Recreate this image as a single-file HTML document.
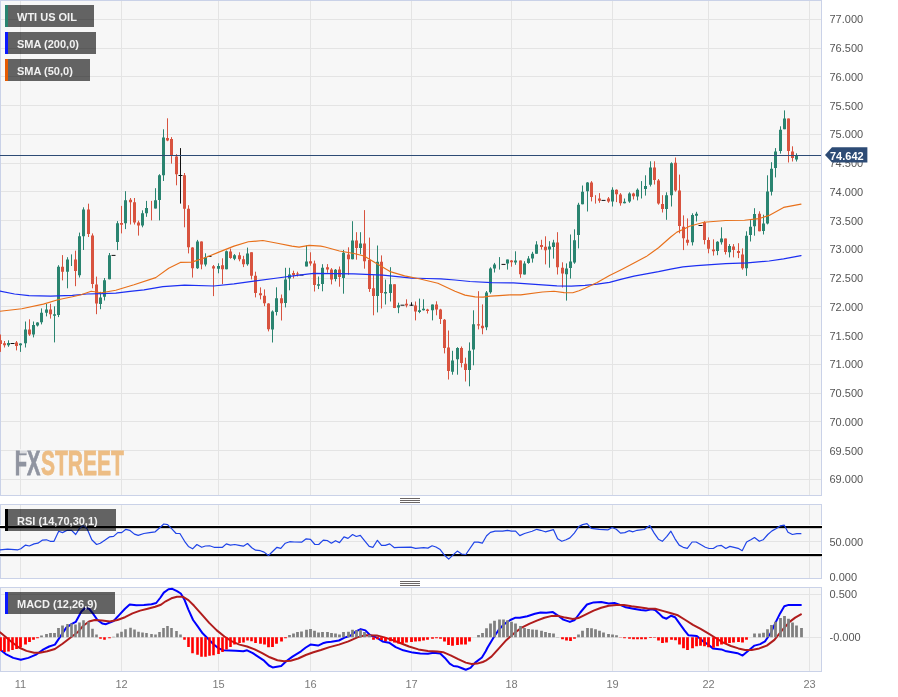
<!DOCTYPE html><html><head><meta charset="utf-8"><title>WTI US OIL</title><style>
html,body{margin:0;padding:0;background:#fff}
#c{position:relative;width:898px;height:697px;overflow:hidden;background:#fff;font-family:"Liberation Sans",Arial,sans-serif}
#c svg{position:absolute;left:0;top:0}
.ax{position:absolute;left:829.5px;font-size:11px;line-height:12px;height:12px;color:#555;white-space:nowrap}
.dt{position:absolute;top:678px;width:40px;text-align:center;font-size:11px;line-height:12px;color:#7a7a7a}
.lb{position:absolute;left:5px;height:22px;background:rgba(0,0,0,0.6);color:#f2f2f2;font-weight:bold;font-size:11px;line-height:22px;padding-top:1px;padding-left:9px;box-sizing:border-box;border-left:3px solid #000;white-space:nowrap}
.tag{position:absolute;left:830px;top:149.5px;font-size:11px;line-height:12px;font-weight:bold;color:#fff;z-index:3}
#tg{z-index:2}

</style></head><body><div id="c">
<svg width="898" height="697" viewBox="0 0 898 697">
<rect x="0.5" y="0.5" width="821" height="495" fill="#f7f7f7" stroke="#cad2e8" stroke-width="1"/>
<rect x="0.5" y="504.5" width="821" height="74" fill="#f7f7f7" stroke="#cad2e8" stroke-width="1"/>
<rect x="0.5" y="587.5" width="821" height="84" fill="#f7f7f7" stroke="#cad2e8" stroke-width="1"/>
<path d="M20.5 1V495M121.5 1V495M218.5 1V495M310.5 1V495M411.5 1V495M511.5 1V495M612.5 1V495M708.5 1V495M809.5 1V495M20.5 505V578M121.5 505V578M218.5 505V578M310.5 505V578M411.5 505V578M511.5 505V578M612.5 505V578M708.5 505V578M809.5 505V578M20.5 588V671M121.5 588V671M218.5 588V671M310.5 588V671M411.5 588V671M511.5 588V671M612.5 588V671M708.5 588V671M809.5 588V671M1 19.5H821M1 48.5H821M1 76.5H821M1 105.5H821M1 134.5H821M1 163.5H821M1 191.5H821M1 220.5H821M1 249.5H821M1 278.5H821M1 306.5H821M1 335.5H821M1 364.5H821M1 393.5H821M1 421.5H821M1 450.5H821M1 479.5H821M1 541.5H821M1 594.5H821M1 637.5H821" stroke="#e4e4e4" stroke-width="1" fill="none"/>
<rect x="400" y="498" width="20" height="1" fill="#6b6666"/>
<rect x="400" y="500" width="20" height="1" fill="#6b6666"/>
<rect x="400" y="502" width="20" height="1" fill="#6b6666"/>
<rect x="400" y="581" width="20" height="1" fill="#6b6666"/>
<rect x="400" y="583" width="20" height="1" fill="#6b6666"/>
<rect x="400" y="585" width="20" height="1" fill="#6b6666"/>
<path d="M8.5 340.3V346.8M20.5 343.2V351.9M25.5 321.5V347.5M33.5 321.5V337.4M37.5 322.2V326.5M41.5 308.4V324.4M46.5 304V316.4M54.5 306.3V342.4M58.5 265.2V317.1M67.5 257.2V288.3M71.5 254.4V266M79.5 232.6V277.5M83.5 207.3V250M100.5 291.8V309.2M104.5 278V300.5M109.5 253V279.3M117.5 221.1V250.1M125.5 191.2V229.1M142.5 210.3V227.3M146.5 200.9V216.8M155.5 188.2V208.5M159.5 174.2V220.4M163.5 129.3V181M197.5 239.9V268.9M205.5 253.3V266.4M218.5 263.3V273.3M226.5 250.5V269.3M234.5 254.1V260.2M247.5 247.6V265.7M272.5 310.4V342.5M276.5 287.3V315.5M285.5 267.8V307.4M289.5 267.8V290.3M306.5 245.4V266.4M318.5 276.5V289.1M322.5 264.2V291.3M335.5 269V281.4M343.5 249.9V293.7M352.5 221.2V259.3M360.5 232.2V254.2M377.5 245.5V312.4M385.5 279.6V304.5M390.5 267.2V301.5M398.5 302.7V313.2M419.5 298.6V313.2M423.5 299.3V310.5M432.5 304.5V320.4M452.5 350.8V374.7M457.5 347.2V374.7M469.5 342.4V386.3M473.5 310.3V365.3M486.5 291V330.2M490.5 267.3V293.7M494.5 262.9V272.5M499.5 257.1V269.6M507.5 259.5V269.6M515.5 251.3V264.8M524.5 261.2V274.5M528.5 256.1V263.8M532.5 251.8V262.6M536.5 241.2V253.7M549.5 241.2V267.7M553.5 239.8V258.6M566.5 263.4V300.6M570.5 234.5V278.6M574.5 229.3V263.8M578.5 202.8V248.4M582.5 185.5V204.3M587.5 182.1V211.5M612.5 187.3V206.5M624.5 198.5V203.3M629.5 192.3V202.8M637.5 188.4V200.4M641.5 181.1V198.5M645.5 175.3V195.6M650.5 161.3V186.5M666.5 192.3V219.8M671.5 162.3V206.5M692.5 213.3V245.5M696.5 211.8V221.5M717.5 241.2V255.2M721.5 227.3V244.6M729.5 244.1V257.4M746.5 231.3V275.9M750.5 219.7V241.5M754.5 208.2V235.7M763.5 214.7V234.5M767.5 175.3V224.4M771.5 162.2V195.5M775.5 148.1V177.4M780.5 126.3V153.6M784.5 110.4V129.2M796.5 153.3V161.5" stroke="#2a8470" stroke-width="1" fill="none"/>
<path d="M0.5 334.5V351.9M4.5 341V347.5M16.5 341V350.4M29.5 319.3V335.9M50.5 303.8V318.6M62.5 255.1V280.4M75.5 250.7V286.2M88.5 203.7V237M92.5 233.4V288.3M96.5 276.6V314.2M121.5 205.9V233.4M130.5 198V224.5M134.5 198V224.5M138.5 220.7V235.6M151.5 200.9V220.4M167.5 118.3V141.2M171.5 137.1V163.6M176.5 154.2V185.3M184.5 173V227.3M188.5 205.2V253.4M192.5 247.2V277.6M201.5 241.4V269.3M213.5 265V296.1M222.5 258.3V284.1M230.5 248.6V258.8M239.5 252.3V261.3M243.5 255.8V267.1M251.5 252.3V279.4M255.5 271.7V297.4M260.5 287.4V299.4M264.5 289.4V306.2M268.5 303.2V331.4M281.5 294.5V320.5M293.5 270.7V278.4M297.5 271.7V276.5M310.5 252.3V265.7M314.5 260.6V291.5M327.5 264.1V272.8M331.5 268.1V284.4M339.5 266.5V286.7M348.5 247.3V274.8M356.5 232.2V259.7M364.5 210.1V268.7M369.5 237.6V291.9M373.5 275.2V315.3M381.5 255.4V308.5M394.5 284.3V308.1M406.5 299.3V307.4M415.5 301.5V320.4M427.5 308.8V313.5M436.5 301.3V315.3M440.5 308.8V324M444.5 319V353.4M448.5 330.5V379.5M461.5 346.5V367.4M465.5 357.7V381.5M478.5 291.2V329.4M482.5 304.4V334.3M511.5 260V266.7M520.5 260.5V277.8M541.5 239.8V249.6M545.5 236.3V264.4M557.5 232.2V274.5M562.5 262.3V287.5M591.5 181.1V201.4M595.5 195.2V203.6M599.5 193.1V202.8M608.5 197V202.8M616.5 189.4V202.1M620.5 193.1V205.7M633.5 192.7V199.5M654.5 161.3V184.5M658.5 179V204.7M662.5 195.2V212.5M675.5 157.5V191.7M679.5 174.6V233.3M683.5 215.4V250.1M687.5 218.4V245.5M704.5 221.2V244.4M708.5 237.4V253.3M713.5 239.3V255.6M725.5 238.6V254.5M733.5 244.1V257.4M738.5 243.2V258.1M742.5 248.4V269.7M759.5 211.3V231.3M788.5 118.5V162.5M792.5 146.3V161.5" stroke="#d8533f" stroke-width="1" fill="none"/>
<path d="M7 342.9H10V345.3H7ZM19 343.5H22V345.3H19ZM24 329.4H27V343.2H24ZM32 325H35V334.5H32ZM36 322.6H39V325.5H36ZM40 312.8H43V322.2H40ZM45 309.6H48V312.8H45ZM53 314.2H56V315.7H53ZM57 266.7H60V315H57ZM66 259.4H69V271.7H66ZM78 236.3H81V275.3H78ZM82 209.5H85V236.3H82ZM99 297.6H102V304H99ZM103 280.2H106V296.8H103ZM108 255.3H111V279.3H108ZM116 223.3H119V242.1H116ZM124 200.3H127V223.3H124ZM141 213.2H144V225.5H141ZM145 208.1H148V213.2H145ZM154 200.3H157V208.5H154ZM158 175.2H161V200H158ZM162 137.6H165V175.2H162ZM196 241.4H199V268.2H196ZM204 257.3H207V264.6H204ZM217 266H220V268.8H217ZM225 251.3H228V269.3H225ZM233 255.2H236V258.7H233ZM246 253.4H249V264.2H246ZM271 311.6H274V329.5H271ZM275 298.3H278V312H275ZM284 279.4H287V303.1H284ZM288 274.6H291V278.4H288ZM305 261.6H308V266.4H305ZM317 284.2H320V285.7H317ZM321 267.8H324V284.1H321ZM334 269.8H337V279H334ZM342 252.8H345V278.1H342ZM351 240.5H354V259.3H351ZM359 243.4H362V248.1H359ZM376 261.7H379V296H376ZM384 291.9H387V293.4H384ZM389 284.3H392V293H389ZM397 305.2H400V307.4H397ZM418 310.3H421V312H418ZM422 308.8H425V310.3H422ZM431 304.5H434V310.3H431ZM451 360.6H454V371.8H451ZM456 347.9H459V359.2H456ZM468 350.8H471V369.9H468ZM472 324.3H475V349.4H472ZM485 292.5H488V327.2H485ZM489 268.4H492V292.2H489ZM493 264.4H496V268.4H493ZM506 259.5H509V263.4H506ZM514 260.5H517V262.6H514ZM523 263.4H526V274.5H523ZM527 258.6H530V262.9H527ZM531 253.7H534V258.6H531ZM535 244.5H538V253.7H535ZM548 246.4H551V249.6H548ZM552 242.4H555V247H552ZM565 268.4H568V274.2H565ZM569 261.5H572V268.1H569ZM573 240.3H576V262.6H573ZM577 204.7H580V235.1H577ZM581 191.7H584V204.3H581ZM586 182.6H589V191.3H586ZM611 189.8H614V201.4H611ZM623 201.8H626V203.3H623ZM628 193.4H631V201.4H628ZM636 189.8H639V196.6H636ZM644 185.9H647V189.1H644ZM649 167.4H652V184.7H649ZM665 195.2H668V209.1H665ZM670 163.3H673V195.2H670ZM691 215.1H694V242.2H691ZM695 213.7H698V215.7H695ZM716 241.7H719V250.9H716ZM720 238.6H723V242.2H720ZM728 246.1H731V252.3H728ZM745 235.7H748V268.2H745ZM749 226.7H752V234.9H749ZM753 214H756V226.3H753ZM762 223.4H765V231H762ZM766 191.5H769V223.4H766ZM770 168.8H773V191.7H770ZM774 151.4H777V168H774ZM779 129.7H782V151H779ZM783 118.5H786V129.2H783ZM795 155.7H798V159.4H795Z" fill="#2a8470"/>
<path d="M-1 340.3H2V343.9H-1ZM3 343.2H6V345.3H3ZM15 342.4H18V346H15ZM28 329.4H31V334.5H28ZM49 309.6H52V314.2H49ZM61 266.7H64V271.7H61ZM74 259.4H77V271H74ZM87 209.5H90V234H87ZM91 235.5H94V284H91ZM95 284.5H98V303.4H95ZM120 223H123V224.7H120ZM129 199.8H132V202.3H129ZM133 202.3H136V222.6H133ZM137 222.6H140V225.5H137ZM166 138H169V140.5H166ZM170 139H173V155.7H170ZM175 156.4H178V174.2H175ZM183 175.2H186V208.8H183ZM187 208.8H190V247.2H187ZM191 247.6H194V268.2H191ZM200 241.4H203V264.6H200ZM212 266.3H215V268.6H212ZM221 265.3H224V269.3H221ZM229 251.5H232V258H229ZM238 255.2H241V259.2H238ZM242 259.2H245V264.2H242ZM250 252.3H253V275.8H250ZM254 275.8H257V293.1H254ZM259 293.2H262V295.2H259ZM263 295.8H266V303.2H263ZM267 303.5H270V329.2H267ZM280 298.3H283V303.2H280ZM292 272.9H295V275.1H292ZM296 273.6H299V274.6H296ZM309 261.3H312V263.5H309ZM313 263.5H316V285.1H313ZM326 267.2H329V269.4H326ZM330 269.4H333V279.5H330ZM338 269.4H341V277.1H338ZM347 254.5H350V259.3H347ZM355 240.5H358V248.1H355ZM363 243.4H366V261.2H363ZM368 260H371V289H368ZM372 288.2H375V296H372ZM380 261.7H383V293H380ZM393 284.3H396V308.1H393ZM405 303.8H408V305.6H405ZM414 305.6H417V311.4H414ZM426 309.5H429V311H426ZM435 304.5H438V309.5H435ZM439 309.5H442V319H439ZM443 319.7H446V347.9H443ZM447 347.6H450V371.1H447ZM460 347.9H463V363.1H460ZM464 363.8H467V369.9H464ZM477 324.2H480V325.6H477ZM481 325.8H484V328.2H481ZM510 260.5H513V262.3H510ZM519 260.5H522V274.2H519ZM540 245H543V247H540ZM544 246.7H547V250.3H544ZM556 242.4H559V267.3H556ZM561 267.7H564V273.5H561ZM590 182.6H593V197H590ZM598 198.5H601V200.7H598ZM607 198.5H610V201.4H607ZM615 189.8H618V194.2H615ZM619 194.6H622V203.3H619ZM632 193.4H635V196.3H632ZM653 167.4H656V180.1H653ZM657 180.4H660V203.6H657ZM661 203.9H664V209.1H661ZM674 162.7H677V190.5H674ZM678 190.5H681V226.1H678ZM682 226.8H685V238.3H682ZM686 239.7H689V242.8H686ZM703 222.3H706V240H703ZM707 240H710V248.7H707ZM712 249.4H715V251.3H712ZM724 238.6H727V251.9H724ZM732 246.5H735V249.9H732ZM737 250.9H740V253H737ZM741 254.5H744V268.2H741ZM758 213.7H761V231.3H758ZM787 118.5H790V151H787ZM791 151.4H794V157.9H791Z" fill="#d8533f"/>
<path d="M10.5 343.5H14.5M111.5 255.4H115.5M180.5 148.1V203.6M178.5 175.5H182.5M207.5 256.4H211.5M299.5 275.1H303.5M400.5 305.2H404.5M411.5 302.3V305.9M409.5 305.2H413.5M501.5 264.4H505.5M601.5 200.4H605.5M698.5 225.5H702.5" stroke="#111" stroke-width="1" fill="none"/>
<path d="M0 291 L14.5 294 L29 295.7 L50.7 296.1 L72.4 295.4 L86.9 294 L101.3 293.7 L115.8 293.2 L130 291.3 L144 289.9 L162.9 286.7 L184.6 285.1 L213.6 286 L234 283.8 L255.7 280.9 L277.4 278 L299.1 275.1 L313.6 273.3 L335 273.6 L354 273.8 L382.9 275.2 L411.9 278.1 L426.3 278.5 L440.8 278.8 L455 280 L470 281.5 L491.7 282.6 L513.4 282.9 L535.1 284.4 L556.9 285.8 L571.3 286.1 L585 285.3 L597.2 284.2 L609.5 282.4 L621.7 279.1 L634 276.2 L646.2 273.8 L658.5 271.6 L670.7 269.1 L683 266.8 L696.7 265.6 L725.7 263.6 L747.4 262.9 L769.1 261 L783.6 258.8 L801 255.6" stroke="#1c2ff2" stroke-width="1.25" fill="none" stroke-linejoin="round" stroke-linecap="round" />
<path d="M0 311.3 L21.7 308.7 L43.4 304.1 L57.9 299.7 L72.4 296.8 L81.1 294.7 L91.2 291.3 L101.3 292.8 L115.8 290.3 L134 284.8 L155.7 277.6 L168.7 268.2 L180.3 262.4 L191.9 262.1 L206.3 257.3 L219.5 251.9 L234 246.1 L248.4 241.8 L262.9 240.5 L277.4 243.2 L291.9 246.1 L299.1 247.1 L309.2 245.4 L320.8 246.1 L325 247 L339.5 251 L354 253.5 L364.1 256 L375.7 262.9 L390.1 271.6 L404.6 275.9 L419.1 278.8 L437.9 283.2 L455 291.2 L465 295.1 L475.1 296.9 L483.1 297.1 L490.2 296.1 L499 295.6 L510.2 294.9 L520.7 294.9 L542.4 292 L554 291.3 L564.1 292.6 L572.8 292.7 L579 290.7 L585 288.3 L597.2 282.4 L609.5 275.6 L621.7 269.5 L634 263.1 L646.2 256.6 L658.5 247.8 L670.7 237 L676.9 232.1 L683 229.5 L689.5 226.3 L704 222.3 L725.7 220.5 L744.5 220.2 L759 218.6 L769.1 215.4 L783.6 207.4 L801 204.1" stroke="#e8701a" stroke-width="1.15" fill="none" stroke-linejoin="round" stroke-linecap="round" />
<rect x="0" y="155" width="821" height="1" fill="#2d4b75"/>
<rect x="0" y="525" width="822" height="4" fill="#fff"/>
<rect x="0" y="526" width="822" height="2.2" fill="#000"/>
<rect x="0" y="553" width="822" height="4" fill="#fff"/>
<rect x="0" y="554" width="822" height="2.2" fill="#000"/>
<path d="M0 549.8 L7.6 549.2 L18 549.8 L20.8 548.8 L25.6 545.1 L29.3 546 L34.1 543.9 L37.9 543.2 L42.6 540.1 L46.4 539.8 L50.2 541.3 L54 541.3 L58.7 531.2 L62.5 532.6 L67.2 530.3 L71.6 530.3 L75.7 534.5 L79.5 528.4 L83.3 525.6 L87.1 528.8 L91.8 539.8 L96.6 544.5 L100.3 543.2 L105.1 540.1 L109.4 536.9 L113.6 536.4 L117.8 532.6 L121.7 532.6 L125.9 529.3 L129.7 530.3 L134.4 534.1 L138.2 535.4 L143.9 533.5 L149.6 532.6 L155.2 531.8 L160 527.5 L163.8 524 L167.6 524.6 L172.3 529.3 L176.1 533.5 L179.9 533.5 L184.6 541.3 L188.4 546.4 L192.6 548.8 L196.9 544.5 L201.7 547.3 L205.4 546 L209.6 545.8 L214 547.3 L218.7 547.3 L222.5 547.3 L226.3 543.9 L230.4 545.1 L234.8 544.5 L239.1 545.4 L243.3 546.2 L247.5 543.5 L251.8 547.7 L255.6 550.2 L260.3 550.7 L264.1 552.1 L268.5 555.5 L272.6 551.5 L277 547.3 L280.8 548.3 L285.3 543.2 L289.7 541.7 L294.4 542 L301.6 542.2 L306.2 538.8 L310.5 539.4 L314.9 544.5 L318.7 544.5 L323.3 540.1 L327.2 540.5 L331.4 543.2 L335.5 540.7 L339.5 542.6 L344 536.9 L348 538.4 L352.6 534.5 L356.3 536.5 L360.3 535.4 L364.5 540.7 L369.2 546.4 L373 547.3 L377.4 540.3 L381.5 545.4 L385.3 545.4 L389.7 543.9 L394.4 547.7 L398.6 547.3 L410.9 547.1 L415.6 548.3 L423.7 547.7 L427.9 548.1 L432.1 545.8 L435.9 547 L440.2 549.6 L444.6 555.3 L448.7 559.1 L453.1 554.9 L457.3 551.1 L461.6 554 L465.8 554.5 L474.3 542.2 L478.1 542.2 L482.3 543.2 L486.6 535.8 L490.4 532.4 L495.1 531.2 L502.7 531.2 L507.5 530.3 L511.2 531.2 L515.6 531.2 L519.8 535.6 L524.5 533.5 L532.1 531.2 L536.8 529.3 L540.6 530.3 L545.3 531.8 L553.5 529.7 L557.6 538.8 L561.8 541.3 L566.1 539.8 L569.9 537.9 L574.3 533.1 L578.8 526.5 L582.6 524.6 L587 523.7 L591.3 528.4 L599.3 529.3 L607.8 529.9 L612.1 527.5 L616.3 529.3 L620.5 533.1 L624.8 532.6 L629 530.7 L633 531.8 L637.1 530.3 L644.2 529.5 L649.8 525.6 L654.2 533.1 L658.4 539.2 L662.3 541.3 L666.9 536.4 L670.9 531.2 L675 538.8 L679.2 545.1 L683.2 547.3 L687.3 548.3 L692.1 542 L696.2 542 L700.6 544.5 L705.3 547.3 L709.1 548.5 L713.3 548.5 L717.2 546 L721.4 545.4 L725.8 548.5 L729.9 546.4 L734.1 547.3 L738.1 548.3 L742.2 550.7 L746.6 542 L750.8 539.8 L754.5 537.5 L759.3 541.3 L763.1 539.8 L767.8 534.5 L772 530.9 L775.9 528.8 L780.1 525.9 L784.3 525.2 L788 532.2 L792.4 534.5 L796.8 533.7 L800.9 533.7" stroke="#1f44e8" stroke-width="1.2" fill="none" stroke-linejoin="round" stroke-linecap="round" />
<path d="M0 649.4 L5.7 654.1 L13.3 657.9 L20.8 659.8 L28.4 657.9 L36 654.7 L43.5 649.4 L49.2 646.5 L54.9 644.6 L60.6 636.1 L66.3 627.6 L71.9 623.8 L75.7 621.9 L81.4 611.5 L85.2 608.1 L89 608.7 L92.8 613.4 L97.5 620 L102.2 623.4 L106 624.2 L113.6 621 L119.3 614.9 L125 608.7 L129.7 604.5 L136.3 605.3 L143.9 604.9 L151.5 604.3 L156.2 603 L160.5 597.5 L163.8 592.6 L168.5 589.2 L172.3 588.8 L177 591.1 L180.8 593.5 L184.6 600.1 L188.4 609.6 L193.1 620 L197.9 626.7 L202.6 633.3 L207.3 638 L213 643.7 L218.7 648.4 L223.4 650.3 L235.7 650.7 L243.3 651.3 L247.1 650.3 L252.8 653.2 L258.4 656.9 L264.1 660.7 L268.9 665.5 L272.6 667.4 L281.2 666 L286.8 660.7 L292.5 656.6 L301 651.3 L305.8 647.5 L310.5 644.6 L318.1 645.6 L322.8 643.3 L326.6 642.2 L331.4 641.8 L338.9 640.5 L344.6 637.6 L350.3 635.7 L356 631.4 L360.7 629.1 L365.4 630.4 L370.2 635.2 L376.8 637.6 L382.5 641.4 L389.1 642.7 L395.7 647.1 L403.3 650.3 L412.8 652.6 L420.3 653.5 L427.9 653.7 L433.6 652.8 L440.2 653.5 L444.9 657.9 L449.7 663.6 L453.5 666 L457.3 666.4 L462 668.3 L465.8 669.8 L470.5 667.9 L475.2 662.6 L481.9 657.5 L485.7 651.3 L487.6 647.5 L493.3 638 L498.9 629.5 L504.6 623.8 L510.3 620 L515 617.8 L519.8 617.8 L527.3 616.2 L534.9 613.8 L540.6 612.5 L546.3 612.8 L552.9 612.1 L557.6 615.3 L563.3 619.6 L569.9 621.9 L574.7 620 L580.3 612.5 L587 604.5 L593.6 602.4 L601.2 602 L608.7 603.4 L614.4 603 L620.1 604.9 L625.8 607.3 L633.4 608.7 L640.9 610 L645.7 610.6 L651.4 609.2 L655.1 610 L658.9 613.4 L662.7 617.2 L666.5 618.7 L671.2 615.7 L675 617.2 L679.8 623.8 L684.5 630.4 L688.3 635.2 L696.8 636.1 L702.5 640.8 L708.2 644.6 L712.9 648.4 L721.4 649.4 L725.2 650.9 L737.5 653.2 L742.6 655.6 L748.9 650.3 L754.5 645.6 L760.2 644.1 L765 641.4 L770.6 633.3 L775.4 622.9 L780.1 613.4 L784.3 606.2 L788.6 604.9 L800.9 604.9" stroke="#0000ff" stroke-width="2" fill="none" stroke-linejoin="round" stroke-linecap="round" />
<path d="M0 632.3 L5.7 637.1 L11.4 641.8 L18.9 647.5 L26.5 650.9 L34.1 652.8 L39.8 652.8 L47.3 651.3 L54.9 649 L62.5 643.7 L70 638 L77.6 632.3 L83.3 625.7 L89 621.5 L94.7 620 L102.2 620.6 L109.8 621.4 L117.4 620 L125 617.2 L132.5 613.4 L140.1 610.6 L147.7 608.7 L155.2 606.8 L160.9 604.7 L165.7 601.3 L171.4 598.3 L177 596.7 L182.7 596.7 L188.4 600.1 L194.1 605.8 L201.7 614.3 L209.2 622.9 L216.8 630.4 L224.4 636.5 L231.9 641.4 L239.5 644.6 L247.1 646.5 L254.7 649.4 L262.2 653.2 L269.8 657.3 L277.4 660.3 L284 661.3 L290.6 660.7 L298.2 658.5 L305.8 655 L313.4 652.2 L320.9 650 L329.5 647.1 L338.9 644.6 L348.4 641.4 L357.9 637.1 L365.4 635.2 L376.8 635.5 L384.4 637.4 L391.9 639.9 L399.5 642.7 L409 646.5 L418.4 649.4 L427.9 650.9 L437.4 651.6 L443.1 652.2 L450.6 655.4 L458.2 659.2 L465.8 662.6 L471.5 663.9 L477.1 663.6 L482.8 662 L485.7 660.7 L491.4 656.6 L498.9 648.4 L506.5 639.9 L514.1 633.3 L521.7 627.6 L529.2 623.8 L536.8 620.6 L544.4 617.8 L551.9 615.9 L557.6 615.7 L565.2 617.6 L572.8 619.1 L578.4 618.1 L586 614.3 L593.6 610.6 L601.2 607.7 L608.7 605.8 L616.3 604.9 L623.9 604.9 L631.5 606.2 L639 607.3 L647.6 608.5 L655.1 608.7 L662.7 610.9 L670.3 613 L677.9 615.3 L685.4 620 L693 624.8 L700.6 628.9 L708.2 633.3 L715.7 638 L723.3 642.7 L730.9 646 L738.4 648.4 L745.1 649.9 L751.7 649.9 L759.3 648.4 L766.8 645.6 L774.4 639.9 L782 630.4 L789.6 621.9 L795.2 617.6 L800.9 614.3" stroke="#b01c1c" stroke-width="2" fill="none" stroke-linejoin="round" stroke-linecap="round" />
<path d="M40.1 635.5H42.9V637.2H40.1ZM45.1 634H47.9V637.2H45.1ZM49.1 633H51.9V637.2H49.1ZM53.1 633H55.9V637.2H53.1ZM57.1 627.9H59.9V637.2H57.1ZM61.1 625.5H63.9V637.2H61.1ZM66.2 623.9H68.8V637.2H66.2ZM70.2 623.6H72.8V637.2H70.2ZM74.2 624.5H76.8V637.2H74.2ZM78.2 622.6H80.8V637.2H78.2ZM82.2 620.2H84.8V637.2H82.2ZM87.2 621.7H89.8V637.2H87.2ZM91.2 628.7H93.8V637.2H91.2ZM95.2 634.5H97.8V637.2H95.2ZM112.2 636.7H114.8V637.2H112.2ZM116.2 633.6H118.8V637.2H116.2ZM120.2 631.7H122.8V637.2H120.2ZM124.2 629.2H126.8V637.2H124.2ZM129.2 627.7H131.8V637.2H129.2ZM133.2 629.6H135.8V637.2H133.2ZM137.2 631.7H139.8V637.2H137.2ZM141.2 632.5H143.8V637.2H141.2ZM145.2 633H147.8V637.2H145.2ZM150.2 634H152.8V637.2H150.2ZM154.2 634.4H156.8V637.2H154.2ZM158.2 632.1H160.8V637.2H158.2ZM162.2 627.9H164.8V637.2H162.2ZM166.2 626H168.8V637.2H166.2ZM170.2 627.9H172.8V637.2H170.2ZM175.2 631.1H177.8V637.2H175.2ZM179.2 634.4H181.8V637.2H179.2ZM288.1 634.9H290.9V637.2H288.1ZM292.1 633.6H294.9V637.2H292.1ZM296.1 632.1H298.9V637.2H296.1ZM300.1 631.5H302.9V637.2H300.1ZM305.1 629.8H307.9V637.2H305.1ZM309.1 628.9H311.9V637.2H309.1ZM313.1 630.8H315.9V637.2H313.1ZM317.1 632.5H319.9V637.2H317.1ZM321.1 632.1H323.9V637.2H321.1ZM326.1 632.1H328.9V637.2H326.1ZM330.1 633H332.9V637.2H330.1ZM334.1 633.4H336.9V637.2H334.1ZM338.1 634.4H340.9V637.2H338.1ZM342.1 632.1H344.9V637.2H342.1ZM347.1 631.7H349.9V637.2H347.1ZM351.1 629.8H353.9V637.2H351.1ZM355.1 630.2H357.9V637.2H355.1ZM359.1 629.8H361.9V637.2H359.1ZM363.1 632.1H365.9V637.2H363.1ZM368.1 634.9H370.9V637.2H368.1ZM477.1 634.9H479.9V637.2H477.1ZM481.1 633H483.9V637.2H481.1ZM485.1 628.3H487.9V637.2H485.1ZM489.1 623.6H491.9V637.2H489.1ZM493.1 620.7H495.9V637.2H493.1ZM498.1 619.4H500.9V637.2H498.1ZM502.1 619.4H504.9V637.2H502.1ZM506.1 620.2H508.9V637.2H506.1ZM510.1 621.7H512.9V637.2H510.1ZM514.1 623.6H516.9V637.2H514.1ZM519.1 626H521.9V637.2H519.1ZM523.1 627.9H525.9V637.2H523.1ZM527.1 628.9H529.9V637.2H527.1ZM531.1 629.6H533.9V637.2H531.1ZM535.1 629.8H537.9V637.2H535.1ZM540.1 630.8H542.9V637.2H540.1ZM544.1 632.1H546.9V637.2H544.1ZM548.1 633H550.9V637.2H548.1ZM552.1 633.6H554.9V637.2H552.1ZM556.1 636.9H558.9V637.2H556.1ZM577.1 634.4H579.9V637.2H577.1ZM581.1 630.8H583.9V637.2H581.1ZM586.1 627.9H588.9V637.2H586.1ZM590.1 628.3H592.9V637.2H590.1ZM594.1 629.2H596.9V637.2H594.1ZM598.1 630.8H600.9V637.2H598.1ZM602.1 632.5H604.9V637.2H602.1ZM607.1 634H609.9V637.2H607.1ZM611.1 634.4H613.9V637.2H611.1ZM615.1 635.3H617.9V637.2H615.1ZM753.1 633.6H755.9V637.2H753.1ZM758.1 633.6H760.9V637.2H758.1ZM762.1 632.7H764.9V637.2H762.1ZM766.1 629.2H768.9V637.2H766.1ZM770.1 624.9H772.9V637.2H770.1ZM774.1 621.7H776.9V637.2H774.1ZM779.1 617.9H781.9V637.2H779.1ZM783.1 616H785.9V637.2H783.1ZM787.1 618.8H789.9V637.2H787.1ZM791.1 622.6H793.9V637.2H791.1ZM795.1 625.5H797.9V637.2H795.1ZM800.1 627.9H802.9V637.2H800.1Z" fill="#808080"/>
<path d="M-0.9 637.2H1.9V651H-0.9ZM3.1 637.2H5.8V652H3.1ZM7.2 637.2H9.8V651.4H7.2ZM11.2 637.2H13.8V650.1H11.2ZM15.2 637.2H17.9V649.1H15.2ZM19.1 637.2H21.9V647.2H19.1ZM24.1 637.2H26.9V644.4H24.1ZM28.1 637.2H30.9V642.1H28.1ZM32.1 637.2H34.9V639.7H32.1ZM36.1 637.2H38.9V638.2H36.1ZM99.2 637.2H101.8V638.7H99.2ZM103.2 637.2H105.8V639.7H103.2ZM108.2 637.2H110.8V638.3H108.2ZM183.2 637.2H185.8V639.7H183.2ZM187.2 637.2H189.8V646.9H187.2ZM191.2 637.2H193.8V653.3H191.2ZM196.2 637.2H198.8V654.8H196.2ZM200.2 637.2H202.8V656.7H200.2ZM204.2 637.2H206.8V656.7H204.2ZM208.2 637.2H210.8V655.8H208.2ZM212.2 637.2H214.8V655.2H212.2ZM217.2 637.2H219.8V653.9H217.2ZM221.2 637.2H223.8V652H221.2ZM225.2 637.2H227.8V649.5H225.2ZM229.2 637.2H231.8V646.9H229.2ZM233.2 637.2H235.8V644.4H233.2ZM238.2 637.2H240.8V643.1H238.2ZM242.2 637.2H244.8V642.5H242.2ZM246.2 637.2H248.8V640.6H246.2ZM250.2 637.2H252.8V641.2H250.2ZM254.2 637.2H256.9V643.1H254.2ZM259.1 637.2H261.9V643.8H259.1ZM263.1 637.2H265.9V644.4H263.1ZM267.1 637.2H269.9V647.2H267.1ZM271.1 637.2H273.9V646.9H271.1ZM275.1 637.2H277.9V643.8H275.1ZM280.1 637.2H282.9V641.6H280.1ZM284.1 637.2H286.9V638.3H284.1ZM372.1 637.2H374.9V639.7H372.1ZM376.1 637.2H378.9V639.3H376.1ZM380.1 637.2H382.9V640H380.1ZM384.1 637.2H386.9V641.2H384.1ZM389.1 637.2H391.9V641.2H389.1ZM393.1 637.2H395.9V642.5H393.1ZM397.1 637.2H399.9V643.4H397.1ZM401.1 637.2H403.9V643.4H401.1ZM405.1 637.2H407.9V642.5H405.1ZM410.1 637.2H412.9V642.1H410.1ZM414.1 637.2H416.9V641.6H414.1ZM418.1 637.2H420.9V641.2H418.1ZM422.1 637.2H424.9V640.6H422.1ZM426.1 637.2H428.9V639.7H426.1ZM431.1 637.2H433.9V638.7H431.1ZM435.1 637.2H437.9V638.2H435.1ZM439.1 637.2H441.9V638.7H439.1ZM443.1 637.2H445.9V641.6H443.1ZM447.1 637.2H449.9V645H447.1ZM451.1 637.2H453.9V645.7H451.1ZM456.1 637.2H458.9V645H456.1ZM460.1 637.2H462.9V644.4H460.1ZM464.1 637.2H466.9V644.4H464.1ZM468.1 637.2H470.9V641.6H468.1ZM561.1 637.2H563.9V639.3H561.1ZM565.1 637.2H567.9V640.6H565.1ZM569.1 637.2H571.9V641H569.1ZM573.1 637.2H575.9V638.7H573.1ZM619.1 637.2H621.9V637.5H619.1ZM623.1 637.2H625.9V638.3H623.1ZM628.1 637.2H630.9V638.7H628.1ZM632.1 637.2H634.9V639.3H632.1ZM636.1 637.2H638.9V639.3H636.1ZM640.1 637.2H642.9V639.3H640.1ZM644.1 637.2H646.9V639.2H644.1ZM649.1 637.2H651.9V638H649.1ZM653.1 637.2H655.9V637.7H653.1ZM657.1 637.2H659.9V640.6H657.1ZM661.1 637.2H663.9V643.1H661.1ZM665.1 637.2H667.9V642.5H665.1ZM670.1 637.2H672.9V639.7H670.1ZM674.1 637.2H676.9V640.2H674.1ZM678.1 637.2H680.9V644.4H678.1ZM682.1 637.2H684.9V648.2H682.1ZM686.1 637.2H688.9V650.1H686.1ZM691.1 637.2H693.9V648.2H691.1ZM695.1 637.2H697.9V646.3H695.1ZM699.1 637.2H701.9V645.7H699.1ZM703.1 637.2H705.9V646.3H703.1ZM707.1 637.2H709.9V647.2H707.1ZM712.1 637.2H714.9V647.8H712.1ZM716.1 637.2H718.9V646.3H716.1ZM720.1 637.2H722.9V644.4H720.1ZM724.1 637.2H726.9V643.8H724.1ZM728.1 637.2H730.9V643.1H728.1ZM732.1 637.2H734.9V642.5H732.1ZM737.1 637.2H739.9V642.1H737.1ZM741.1 637.2H743.9V642.5H741.1ZM745.1 637.2H747.9V639.7H745.1Z" fill="#ff0000"/>
<text x="14.8" y="474.6" font-family="Liberation Sans, sans-serif" font-weight="bold" font-size="35.2" textLength="25.6" lengthAdjust="spacingAndGlyphs" fill="#9094a0" stroke="#9094a0" stroke-width="0.8">FX</text>
<rect x="19.8" y="449" width="7" height="4.4" fill="#f7f7f7" opacity="0.75"/>
<text x="41" y="474.6" font-family="Liberation Sans, sans-serif" font-weight="bold" font-size="35.2" textLength="82.8" lengthAdjust="spacingAndGlyphs" fill="#edbd84" stroke="#edbd84" stroke-width="0.8">STREET</text>
</svg>
<div class="ax" style="top:13px">77.000</div>
<div class="ax" style="top:42px">76.500</div>
<div class="ax" style="top:71px">76.000</div>
<div class="ax" style="top:100px">75.500</div>
<div class="ax" style="top:128px">75.000</div>
<div class="ax" style="top:157px">74.500</div>
<div class="ax" style="top:186px">74.000</div>
<div class="ax" style="top:215px">73.500</div>
<div class="ax" style="top:243px">73.000</div>
<div class="ax" style="top:272px">72.500</div>
<div class="ax" style="top:301px">72.000</div>
<div class="ax" style="top:330px">71.500</div>
<div class="ax" style="top:358px">71.000</div>
<div class="ax" style="top:387px">70.500</div>
<div class="ax" style="top:416px">70.000</div>
<div class="ax" style="top:445px">69.500</div>
<div class="ax" style="top:473px">69.000</div>
<div class="ax" style="top:536px">50.000</div>
<div class="ax" style="top:571px">0.000</div>
<div class="ax" style="top:588px">0.500</div>
<div class="ax" style="top:631px">-0.000</div>
<svg id="tg" width="898" height="697" viewBox="0 0 898 697"><path d="M825 155L832 147.3H867.4V162.4H832Z" fill="#2d4b75"/></svg>
<div class="tag">74.642</div>
<div class="dt" style="left:0.5px">11</div>
<div class="dt" style="left:101.5px">12</div>
<div class="dt" style="left:198.5px">15</div>
<div class="dt" style="left:290.5px">16</div>
<div class="dt" style="left:391.5px">17</div>
<div class="dt" style="left:491.5px">18</div>
<div class="dt" style="left:592.5px">19</div>
<div class="dt" style="left:688.5px">22</div>
<div class="dt" style="left:789.5px">23</div>
<div class="lb" style="top:5px;width:89px;border-left-color:#2a8470">WTI US OIL</div>
<div class="lb" style="top:32px;width:91px;border-left-color:#0a18ff">SMA (200,0)</div>
<div class="lb" style="top:59px;width:85px;border-left-color:#e65a00">SMA (50,0)</div>
<div class="lb" style="top:509px;width:111px;border-left-color:#000">RSI (14,70,30,1)</div>
<div class="lb" style="top:592px;width:110px;border-left-color:#0a18ff">MACD (12,26,9)</div>
</div></body></html>
